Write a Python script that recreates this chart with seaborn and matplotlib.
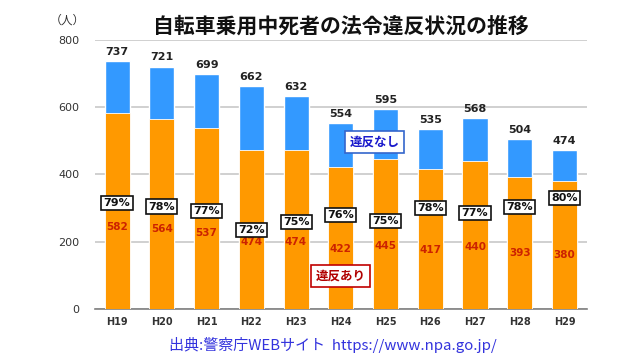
import matplotlib
matplotlib.use("Agg")
import matplotlib.pyplot as plt
import pandas as pd
import seaborn as sns

years = ["H19", "H20", "H21", "H22", "H23", "H24", "H25", "H26", "H27", "H28", "H29"]
totals = [737, 721, 699, 662, 632, 554, 595, 535, 568, 504, 474]
violations = [582, 564, 537, 474, 474, 422, 445, 417, 440, 393, 380]
percents = [79, 78, 77, 72, 75, 76, 75, 78, 77, 78, 80]

df = pd.DataFrame({"year": years, "total": totals, "violation": violations, "pct": percents})

sns.set_theme(style="white")
plt.rcParams['font.family'] = ['DejaVu Sans', 'Noto Sans CJK JP']

BLUE = "#3399FF"
ORANGE = "#FF9900"

fig = plt.figure(figsize=(6.4, 3.6), dpi=100)
ax = fig.add_axes([0.148, 0.142, 0.769, 0.747])

sns.barplot(data=df, x="year", y="total", color=BLUE, width=0.56, saturation=1, ax=ax, zorder=2)
sns.barplot(data=df, x="year", y="violation", color=ORANGE, width=0.56, saturation=1, ax=ax, zorder=3,
            edgecolor="white", linewidth=0.6)

ax.set_xlim(-0.5, len(years) - 0.5)
ax.set_ylim(0, 800)
ax.set_yticks([0, 200, 400, 600, 800])
ax.yaxis.grid(True, color="#c8c8c8", linewidth=1.2, zorder=0)
ax.set_axisbelow(True)
for s in ["top", "right", "left"]:
    ax.spines[s].set_visible(False)
ax.spines["bottom"].set_color("#808080")
ax.spines["bottom"].set_linewidth(1.2)
ax.set_xlabel("")
ax.set_ylabel("")
ax.tick_params(axis="y", length=0, labelsize=8, colors="#333333", pad=11)
ax.tick_params(axis="x", length=0, labelsize=7, colors="#333333", pad=6)
for lab in ax.get_xticklabels():
    lab.set_fontweight("bold")

# label y positions for the percentage boxes (layout only)
pct_label_y = [315, 304, 291, 235, 259, 280, 262, 300, 286, 303, 330]

for i, (t, v, p) in enumerate(zip(totals, violations, percents)):
    ax.text(i, t + 12, str(t), ha="center", va="bottom", fontsize=8, fontweight="bold", color="#222222", zorder=5)
    ax.text(i, v * 0.42, str(v), ha="center", va="center", fontsize=7.5, fontweight="bold", color="#CC2200", zorder=5)
    ax.text(i, pct_label_y[i], f"{p}%", ha="center", va="center", fontsize=8, fontweight="bold", color="#111111",
            zorder=6, bbox=dict(boxstyle="square,pad=0.2", facecolor="white", edgecolor="#111111", linewidth=1.2))

ax.text(5.75, 497, "違反なし", ha="center", va="center", fontsize=9, fontweight="bold", color="#1A1ACC",
        family=['Noto Sans CJK JP'], zorder=7,
        bbox=dict(boxstyle="square,pad=0.35", facecolor="white", edgecolor="#3366CC", linewidth=1.2))
ax.text(4.99, 98, "違反あり", ha="center", va="center", fontsize=9, fontweight="bold", color="#B00000",
        family=['Noto Sans CJK JP'], zorder=7,
        bbox=dict(boxstyle="square,pad=0.35", facecolor="white", edgecolor="#C00000", linewidth=1.2))

fig.text(0.533, 0.928, "自転車乗用中死者の法令違反状況の推移", ha="center", va="center", fontsize=15,
         fontweight="bold", color="#111111", family=['Noto Sans CJK JP'])
fig.text(0.106, 0.945, "（人）", ha="center", va="center", fontsize=8.5, color="#333333",
         family=['Noto Sans CJK JP'])
fig.text(0.52, 0.042, "出典:警察庁WEBサイト  https://www.npa.go.jp/", ha="center", va="center", fontsize=10.8,
         color="#3333DD", family=['Noto Sans CJK JP', 'DejaVu Sans'])

fig.savefig("out.png", dpi=100)
